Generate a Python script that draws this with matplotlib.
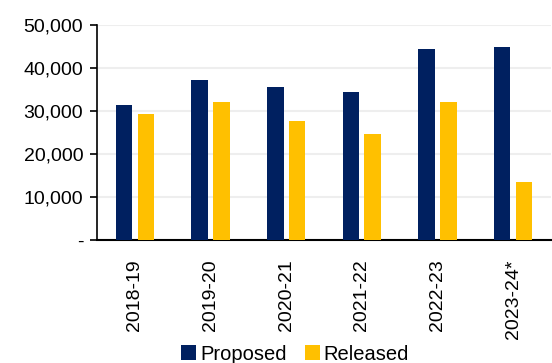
import matplotlib.pyplot as plt
import numpy as np

# Data
years = ["2018-19", "2019-20", "2020-21", "2021-22", "2022-23", "2023-24*"]
proposed = [31300, 37300, 35700, 34500, 44400, 44800]
released = [29200, 32200, 27600, 24700, 32000, 13400]

plt.rcParams['font.family'] = ['Liberation Sans', 'DejaVu Sans']

fig = plt.figure(figsize=(5.52, 3.63), dpi=100)
ax = fig.add_axes([0.176, 0.339, 0.822, 0.592])

x = np.arange(len(years))
w = 0.22
ax.bar(x - 0.145, proposed, width=w, color="#002060", label="Proposed", zorder=3)
ax.bar(x + 0.145, released, width=w, color="#FFC000", label="Released", zorder=3)

ax.set_xlim(-0.5, len(years) - 0.5)
ax.set_ylim(0, 50000)
ax.set_yticks(range(0, 50001, 10000))
ax.set_yticklabels(["-"] + ["{:,}".format(v) for v in range(10000, 50001, 10000)], fontsize=14)
ax.set_xticks(x)
ax.set_xticklabels(years, rotation=90, fontsize=14)
ax.tick_params(axis='x', length=0, pad=14)
ax.tick_params(axis='y', length=5, width=1.2, pad=5)

ax.grid(axis='y', color="#eeeeee", linewidth=1.5, zorder=0)
for s in ["top", "right"]:
    ax.spines[s].set_visible(False)
ax.spines["left"].set_linewidth(1.2)
ax.spines["bottom"].set_linewidth(1.5)

fig.legend(loc='center', bbox_to_anchor=(295 / 552, 1 - 354 / 363), ncol=2,
           frameon=False, fontsize=14.5, handlelength=0.75, handleheight=0.75,
           handletextpad=0.2, columnspacing=0.9)

fig.savefig("out.png", dpi=100)
